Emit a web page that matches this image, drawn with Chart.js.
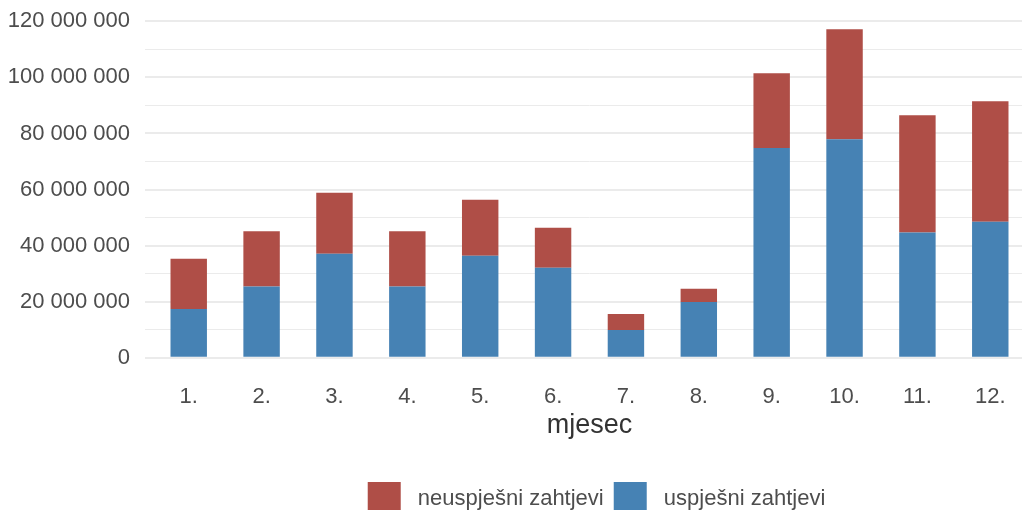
<!DOCTYPE html>
<html>
<head>
<meta charset="utf-8">
<script src="https://cdn.jsdelivr.net/npm/chart.js@4"></script>
<style>
  html, body { margin:0; padding:0; background:#fff; overflow:hidden; }
  #wrap { width:1034px; height:525px; }
</style>
</head>
<body>
<div id="wrap"><canvas id="chart"></canvas></div>
<script>
'use strict';

// ---- Podaci ----
const mjeseci = ['1.','2.','3.','4.','5.','6.','7.','8.','9.','10.','11.','12.'];
const uspjesni   = [17.4e6, 25.4e6, 37.1e6, 25.4e6, 36.4e6, 32.1e6,  9.9e6, 19.9e6, 74.8e6, 77.9e6, 44.7e6, 48.5e6];
const neuspjesni = [17.9e6, 19.7e6, 21.8e6, 19.7e6, 20.0e6, 14.3e6,  5.7e6,  4.7e6, 26.7e6, 39.3e6, 41.8e6, 43.0e6];
const yTicks = [0, 10e6, 20e6, 30e6, 40e6, 50e6, 60e6, 70e6, 80e6, 90e6, 100e6, 110e6, 120e6];

const FONT = "'Liberation Sans', Arial, sans-serif";
const GRID = '#ebebeb';
const fmt = v => String(v).replace(/\B(?=(\d{3})+(?!\d))/g, ' ');
const isMajor = v => v % 20e6 === 0;

const toPts = arr => arr.map((v, i) => ({ x: i + 1, y: v }));

// legenda malo udesno (centrirana kao u originalu)
const legendShift = {
  id: 'legendShift',
  afterLayout(chart) { const l = chart.legend; if (l) { l.left += 7; l.right += 7; } }
};

new Chart(document.getElementById('chart').getContext('2d'), {
  type: 'bar',
  data: {
    datasets: [
      { label:' uspješni zahtjevi',   data:toPts(uspjesni),   backgroundColor:'#4682b4', borderWidth:0 },
      { label:' neuspješni zahtjevi', data:toPts(neuspjesni), backgroundColor:'#af4e47', borderWidth:0 }
    ]
  },
  plugins: [legendShift],
  options: {
    responsive: true, maintainAspectRatio: false, animation: false,
    layout: { padding: 0 },
    datasets: { bar: { barPercentage: 0.5, categoryPercentage: 1 } },
    plugins: {
      tooltip: { enabled: false },
      legend: {
        position: 'bottom', reverse: true, fullSize: false,
        labels: { color:'#4d4d4d', font:{ family:FONT, size:22 }, boxWidth:33, boxHeight:33, padding:10 }
      }
    },
    scales: {
      x: {
        type: 'linear', stacked: true, offset: false, min: 0.4, max: 12.6,
        afterBuildTicks: s => { s.ticks = mjeseci.map((_, i) => ({ value: i + 1 })); },
        grid: { display: false, drawTicks: false },
        border: { display: false },
        ticks: { color:'#4d4d4d', font:{ family:FONT, size:22 }, padding: 10, maxRotation: 0,
                 callback: v => mjeseci[v - 1] },
        title: { display: true, text: 'mjesec', color:'#333', font:{ family:FONT, size:27 },
                 padding: { top: -11, bottom: 30 } }
      },
      y: {
        stacked: true, min: -5.86e6, max: 123.06e6,
        afterBuildTicks: s => { s.ticks = yTicks.map(v => ({ value: v })); },
        afterFit: s => { s.width = 145; },
        grid: {
          drawTicks: true, tickLength: 15, tickColor: 'rgba(0,0,0,0)',
          color: GRID,
          lineWidth: c => (c.tick && isMajor(c.tick.value)) ? 2 : 1
        },
        border: { display: false },
        ticks: { color:'#4d4d4d', font:{ family:FONT, size:22, lineHeight:1.16 }, padding: 0,
                 callback: v => isMajor(v) ? fmt(v) : '' }
      }
    }
  }
});
</script>
</body>
</html>
